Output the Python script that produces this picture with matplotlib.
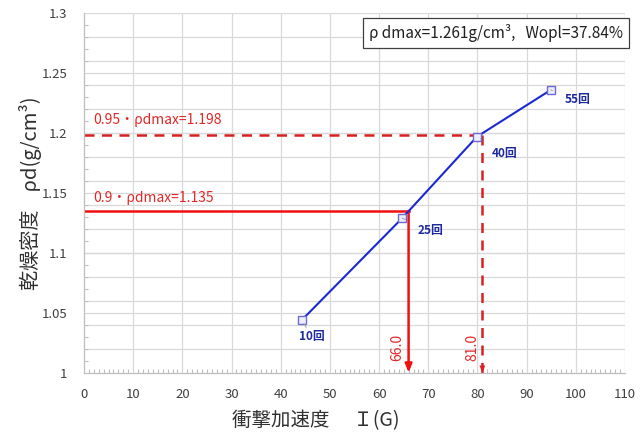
import matplotlib
matplotlib.use("Agg")
import matplotlib.pyplot as plt
import numpy as np

plt.rcParams['font.family'] = ['Noto Sans CJK JP', 'DejaVu Sans']

# ---- data ----
impact_G = [44.3, 64.7, 79.9, 94.9]
dry_density = [1.044, 1.129, 1.197, 1.236]
point_labels = ["10回", "25回", "40回", "55回"]
label_offsets = [(7, -12), (20, -9), (20, -12), (19, -7)]

rho_90 = 1.135
rho_95 = 1.198
I_90 = 66.0
I_95 = 81.0
label_90 = "0.9・ρdmax=1.135"
label_95 = "0.95・ρdmax=1.198"
info_text = "ρ dmax=1.261g/cm³,   Wopl=37.84%"

x_ticks = list(range(0, 111, 10))
y_ticks = [1.0, 1.05, 1.1, 1.15, 1.2, 1.25, 1.3]
y_ticklabels = ["1", "1.05", "1.1", "1.15", "1.2", "1.25", "1.3"]

fig = plt.figure(figsize=(6.44, 4.34), dpi=100)
ax = fig.add_axes([0.1304, 0.1412, 0.9705 - 0.1304, 0.9694 - 0.1412])

ax.set_xlim(0, 110)
ax.set_ylim(1.0, 1.3)

grid_c = "#d9d9d9"
# gridlines
for xv in x_ticks[1:]:
    ax.axvline(xv, color=grid_c, lw=0.9, zorder=0)
for yv in np.arange(1.02, 1.2999, 0.02):
    ax.axhline(yv, color=grid_c, lw=0.9, zorder=0)
for yv in y_ticks[1:]:
    ax.axhline(yv, color=grid_c, lw=0.9, zorder=0)

ax.set_xticks(x_ticks)
ax.set_xticklabels([str(v) for v in x_ticks])
ax.set_yticks(y_ticks)
ax.set_yticklabels(y_ticklabels)
ax.set_xticks(np.arange(0, 111, 1), minor=True)
ax.set_yticks(np.arange(1.0, 1.3001, 0.01), minor=True)
ax.tick_params(axis='both', which='major', length=0, labelsize=9.5, colors="#404040")
ax.tick_params(axis='x', which='major', pad=11)
ax.tick_params(axis='y', which='major', pad=12)
ax.tick_params(axis='both', which='minor', direction='in', length=3, color="#bfbfbf", width=0.8)

for s in ['top', 'right']:
    ax.spines[s].set_visible(False)
for s in ['left', 'bottom']:
    ax.spines[s].set_color("#bfbfbf")
    ax.spines[s].set_linewidth(0.9)

# red reference lines
red_solid = "#f01010"
red_dash = "#d92020"
ax.plot([0, I_90], [rho_90, rho_90], color=red_solid, lw=1.8, zorder=2)
ax.annotate("", xy=(I_90, 1.0), xytext=(I_90, rho_90),
            arrowprops=dict(arrowstyle="-|>,head_length=0.5,head_width=0.2",
                            color=red_solid, lw=1.8, shrinkA=0, shrinkB=0), zorder=2)
ax.plot([0, I_95], [rho_95, rho_95], color=red_dash, lw=1.8, ls=(0, (4, 3)), zorder=2)
ax.plot([I_95, I_95], [rho_95, 1.0], color=red_dash, lw=1.8, ls=(0, (4, 3)), zorder=2)
ax.annotate("", xy=(I_95, 1.0), xytext=(I_95, 1.01),
            arrowprops=dict(arrowstyle="-|>,head_length=0.5,head_width=0.2",
                            color=red_dash, lw=0.1, shrinkA=0, shrinkB=0), zorder=2)

ax.annotate(label_95, xy=(0, rho_95), xytext=(7, 6), textcoords='offset points',
            color="#e02828", fontsize=10, ha='left', va='bottom')
ax.annotate(label_90, xy=(0, rho_90), xytext=(7, 4), textcoords='offset points',
            color="#e02828", fontsize=10, ha='left', va='bottom')
ax.annotate(f"{I_90:.1f}", xy=(I_90, 1.0), xytext=(-8, 18.5), textcoords='offset points',
            color="#e02828", fontsize=10, rotation=90, ha='center', va='center')
ax.annotate(f"{I_95:.1f}", xy=(I_95, 1.0), xytext=(-7, 18.5), textcoords='offset points',
            color="#e02828", fontsize=10, rotation=90, ha='center', va='center')

# data series
ax.plot(impact_G, dry_density, color="#1a2ad0", lw=1.5, zorder=3)
ax.plot(impact_G, dry_density, ls='none', marker='s', ms=6, mfc="#eeeeff",
        mec="#6a6ad8", mew=1.0, zorder=4)
for x, y, lab, (dx, dy) in zip(impact_G, dry_density, point_labels, label_offsets):
    ax.annotate(lab, xy=(x, y), xytext=(dx, dy), textcoords='offset points',
                color="#1c2a9e", fontsize=8.5, fontweight='bold', ha='center', va='center',
                arrowprops=dict(arrowstyle='-', color="#a0a0a0", lw=0.7,
                                shrinkA=7, shrinkB=3), zorder=5)

# info box
ax.text(0.997, 0.945, info_text, transform=ax.transAxes, ha='right', va='center',
        fontsize=11, color="#202020",
        bbox=dict(boxstyle='square,pad=0.4', fc='white', ec='#404040', lw=0.9), zorder=6)

# axis labels
fig.text(0.047, 0.555, "乾燥密度    ρd(g/cm³)", rotation=90, ha='center', va='center',
         fontsize=14.5, color="#303030")
fig.text(0.49, 0.03, "衝撃加速度　 Ｉ(G)", ha='center', va='center',
         fontsize=14, color="#303030")

fig.savefig("out.png", dpi=100)
